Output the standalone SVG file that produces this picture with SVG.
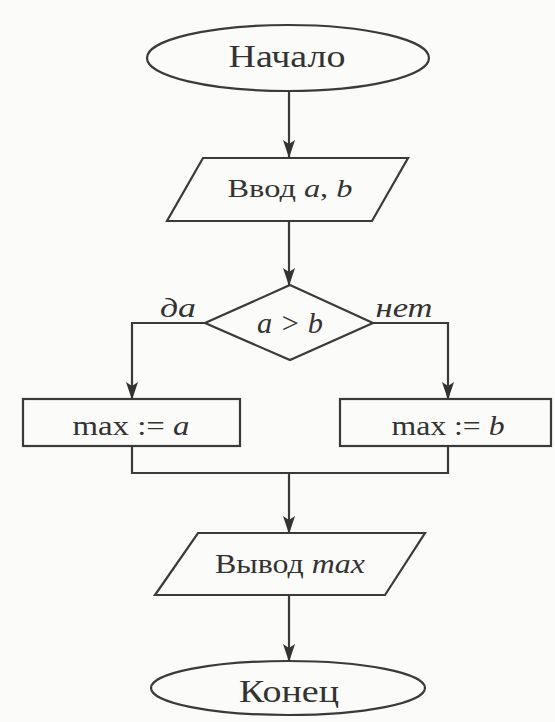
<svg xmlns="http://www.w3.org/2000/svg" width="555" height="722" viewBox="0 0 555 722">
<style>
.shape{fill:none;stroke:#3a3a3a;stroke-width:2.2}
.line{fill:none;stroke:#3a3a3a;stroke-width:2.2}
text{font-family:"Liberation Serif","Times New Roman",serif;fill:#333;text-anchor:middle}
.it{font-style:italic}
</style>
<defs>
<marker id="arr" markerUnits="userSpaceOnUse" markerWidth="18" markerHeight="12" viewBox="0 0 18 12" refX="17" refY="6" orient="auto">
<path d="M0,0 L18,6 L0,12 L4,6 z" fill="#333"/>
</marker>
</defs>
<rect width="555" height="722" fill="#fbfbf9"/>
<g id="connectors">
<path class="line" d="M289,91 V157" marker-end="url(#arr)"/>
<path class="line" d="M289,221 V285" marker-end="url(#arr)"/>
<path class="line" d="M205,323 H132 V399" marker-end="url(#arr)"/>
<path class="line" d="M373,323 H448 V399" marker-end="url(#arr)"/>
<path class="line" d="M132,446 V473 H448 V446"/>
<path class="line" d="M289,473 V533" marker-end="url(#arr)"/>
<path class="line" d="M289,595 V661" marker-end="url(#arr)"/>
<text class="it" x="178" y="317" font-size="28" textLength="36" lengthAdjust="spacingAndGlyphs">да</text>
<text class="it" x="404" y="317" font-size="28" textLength="57" lengthAdjust="spacingAndGlyphs">нет</text>
</g>
<g id="start">
<ellipse class="shape" cx="288" cy="58" rx="141" ry="33"/>
<text x="287" y="67" font-size="32" textLength="117" lengthAdjust="spacingAndGlyphs">Начало</text>
</g>
<g id="input">
<polygon class="shape" points="203,158 408,158 372,221 167,221"/>
<text x="290" y="197" font-size="26" textLength="125" lengthAdjust="spacingAndGlyphs">Ввод <tspan class="it">a</tspan>, <tspan class="it">b</tspan></text>
</g>
<g id="decision">
<polygon class="shape" points="290,285 373,323 290,360 205,323"/>
<text class="it" x="290" y="333" font-size="30" textLength="66" lengthAdjust="spacingAndGlyphs">a &gt; b</text>
</g>
<g id="assignA">
<rect class="shape" x="23" y="399" width="217" height="47"/>
<text x="131" y="435" font-size="28" textLength="117" lengthAdjust="spacingAndGlyphs">max := <tspan class="it">a</tspan></text>
</g>
<g id="assignB">
<rect class="shape" x="340" y="399" width="211" height="47"/>
<text x="448" y="435" font-size="28" textLength="113" lengthAdjust="spacingAndGlyphs">max := <tspan class="it">b</tspan></text>
</g>
<g id="output">
<polygon class="shape" points="198,533 425,533 385,595 155,595"/>
<text x="290" y="573" font-size="27" textLength="150" lengthAdjust="spacingAndGlyphs">Вывод <tspan class="it">max</tspan></text>
</g>
<g id="end">
<ellipse class="shape" cx="288" cy="688" rx="137" ry="27"/>
<text x="289" y="702" font-size="32" textLength="100" lengthAdjust="spacingAndGlyphs">Конец</text>
</g>
</svg>
